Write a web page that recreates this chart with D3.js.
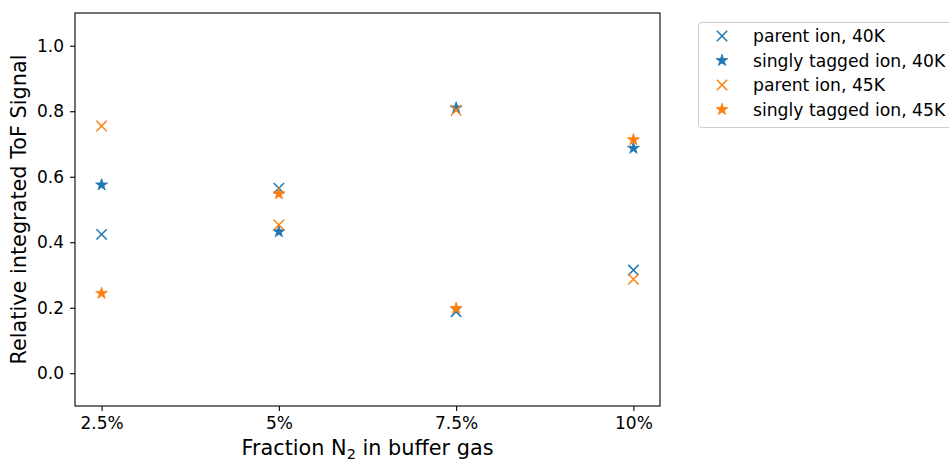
<!DOCTYPE html>
<html><head><meta charset="utf-8">
<script src="https://cdn.jsdelivr.net/npm/d3@7/dist/d3.min.js"></script>
<style>body{margin:0;background:#fff;} text{font-family:"DejaVu Sans",sans-serif;}</style>
</head><body>
<svg id="c" width="949" height="459"></svg>
<script>
const categories = [2.5, 5, 7.5, 10];
const tickLabels = ["2.5%", "5%", "7.5%", "10%"];
const parent40 = [0.424, 0.565, 0.188, 0.315];
const tagged40 = [0.575, 0.432, 0.810, 0.687];
const parent45 = [0.755, 0.453, 0.803, 0.287];
const tagged45 = [0.244, 0.548, 0.198, 0.713];
const yTicks = [0.0, 0.2, 0.4, 0.6, 0.8, 1.0];
const series = [
  {name: "parent ion, 40K", values: parent40, color: "#1f77b4", marker: "x"},
  {name: "singly tagged ion, 40K", values: tagged40, color: "#1f77b4", marker: "star"},
  {name: "parent ion, 45K", values: parent45, color: "#ff7f0e", marker: "x"},
  {name: "singly tagged ion, 45K", values: tagged45, color: "#ff7f0e", marker: "star"}
];

const svg = d3.select("#c");
const L = 75, R = 660, T = 13, B = 406;
const x = d3.scaleLinear().domain([2.125, 10.375]).range([L, R]);
const y = d3.scaleLinear().domain([-0.1, 1.1]).range([B, T]);

const starPath = d3.symbol().type(d3.symbolStar).size(44)();
function drawMarker(g, m, color) {
  if (m === "x") {
    const s = 5.2;
    g.append("path").attr("d", `M${-s},${-s}L${s},${s}M${-s},${s}L${s},${-s}`)
      .attr("stroke", color).attr("stroke-width", 1.5).attr("fill", "none");
  } else {
    g.append("path").attr("d", starPath).attr("fill", color).attr("stroke", color).attr("stroke-width", 0.8);
  }
}

// axes
const xAxis = d3.axisBottom(x).tickValues(categories).tickFormat((d, i) => tickLabels[i]).tickSize(5).tickPadding(6);
const gx = svg.append("g").attr("transform", `translate(0,${B})`).call(xAxis);
const yAxis = d3.axisLeft(y).tickValues(yTicks).tickFormat(d3.format(".1f")).tickSize(5).tickPadding(6);
const gy = svg.append("g").attr("transform", `translate(${L},0)`).call(yAxis);
[gx, gy].forEach(g => {
  g.select(".domain").remove();
  g.selectAll("text").attr("font-size", 17).attr("fill", "#000").attr("font-family", "DejaVu Sans");
  g.selectAll("line").attr("stroke", "#000").attr("stroke-width", 1.1);
});

// data
series.forEach(s => {
  s.values.forEach((v, i) => {
    const g = svg.append("g").attr("transform", `translate(${x(categories[i])},${y(v)})`);
    drawMarker(g, s.marker, s.color);
  });
});

svg.append("rect").attr("x", L).attr("y", T).attr("width", R - L).attr("height", B - T)
  .attr("fill", "none").attr("stroke", "#000").attr("stroke-width", 1.1);

// labels
const xl = svg.append("text").attr("x", (L + R) / 2).attr("y", 455).attr("text-anchor", "middle")
  .attr("font-size", 20.8);
xl.append("tspan").text("Fraction N");
xl.append("tspan").text("2").attr("font-size", 14.5).attr("dy", 4);
xl.append("tspan").text(" in buffer gas").attr("dy", -4);

svg.append("text").attr("transform", `translate(26,${(T + B) / 2}) rotate(-90)`).attr("text-anchor", "middle")
  .attr("font-size", 20.8).text("Relative integrated ToF Signal");

// legend
const lg = svg.append("g");
lg.append("rect").attr("x", 698.5).attr("y", 22.5).attr("width", 270).attr("height", 105).attr("rx", 3)
  .attr("fill", "#fff").attr("stroke", "#ccc").attr("stroke-width", 1);
series.forEach((s, i) => {
  const yy = 36 + i * 24.5;
  const g = lg.append("g").attr("transform", `translate(722,${yy})`);
  drawMarker(g, s.marker, s.color);
  lg.append("text").attr("x", 753).attr("y", yy + 6).attr("font-size", 17.2).text(s.name);
});
</script>
</body></html>
